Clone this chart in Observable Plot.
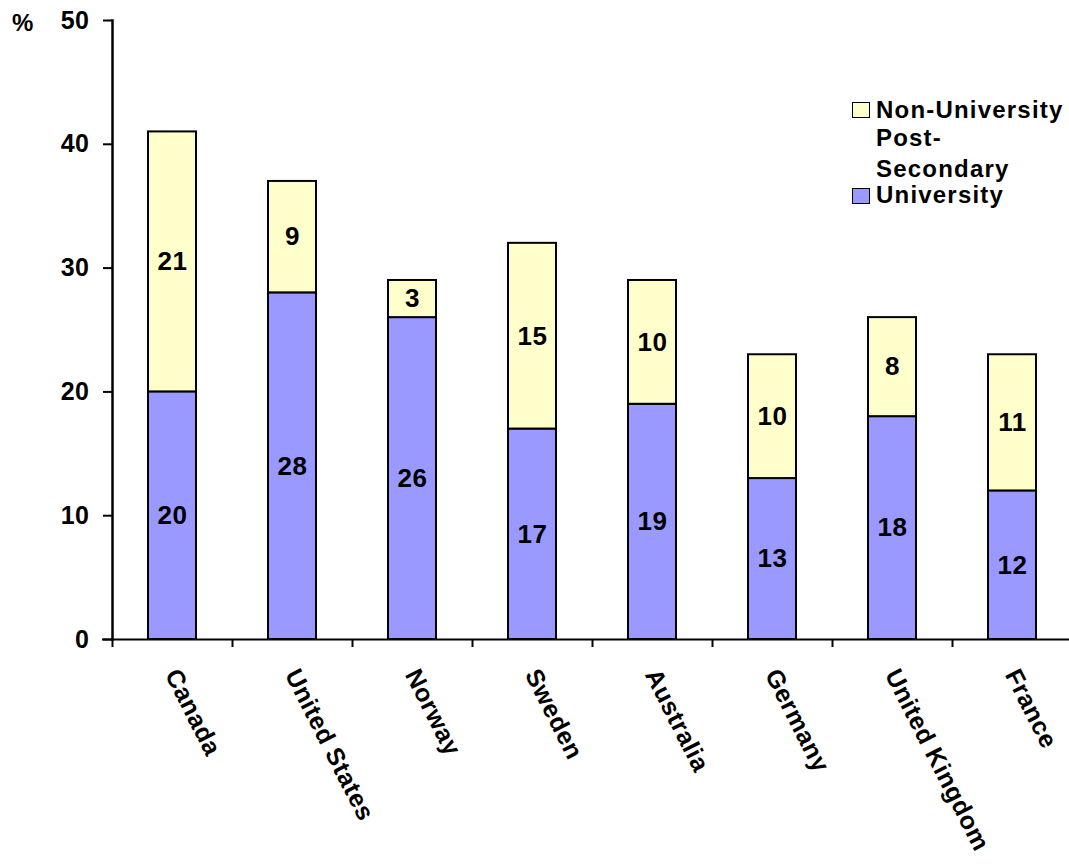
<!DOCTYPE html>
<html>
<head>
<meta charset="utf-8">
<script src="https://cdn.jsdelivr.net/npm/d3@7"></script>
<script src="https://cdn.jsdelivr.net/npm/@observablehq/plot@0.6"></script>
<style>
  html, body { margin: 0; padding: 0; background: #fff; }
  #wrap { position: relative; width: 1069px; height: 867px; font-family: "Liberation Sans", Arial, sans-serif; font-weight: bold; }
  .lbl { position: absolute; font-size: 24px; line-height: 20px; letter-spacing: 1.2px; color: #000; white-space: nowrap; }
  .sw { position: absolute; width: 18px; height: 16px; border: 1.5px solid #000; box-sizing: border-box; }
</style>
</head>
<body>
<div id="wrap"></div>
<script>
const countries = ["Canada", "United States", "Norway", "Sweden", "Australia", "Germany", "United Kingdom", "France"];
const university = [20, 28, 26, 17, 19, 13, 18, 12];
const nonUniversity = [21, 9, 3, 15, 10, 10, 8, 11];
const seriesNames = ["University", "Non-University"];
const seriesColors = ["#9999FF", "#FFFFCC"];
const yTicks = [0, 10, 20, 30, 40, 50];

const rows = [];
countries.forEach((c, i) => {
  rows.push({country: c, type: seriesNames[0], value: university[i]});
  rows.push({country: c, type: seriesNames[1], value: nonUniversity[i]});
});

const W = 1069, H = 867;
const chart = Plot.plot({
  width: W,
  height: H,
  marginLeft: 112,
  marginRight: 0,
  marginTop: 20,
  marginBottom: 228,
  style: {fontFamily: '"Liberation Sans", Arial, sans-serif', fontWeight: "bold", fontSize: "24px", color: "#000", background: "#fff", overflow: "visible", letterSpacing: "0.5px"},
  x: {type: "band", domain: countries, range: [112, 1072], paddingInner: 0.6, paddingOuter: 0.3, axis: null, label: null},
  y: {domain: [0, 50], axis: null, label: null},
  color: {domain: seriesNames, range: seriesColors},
  marks: [
    Plot.barY(rows, Plot.stackY({x: "country", y: "value", z: "type", fill: "type", stroke: "#000", strokeWidth: 2})),
    Plot.text(rows, Plot.stackY({x: "country", y: "value", z: "type", text: "value", fill: "#000", fontSize: 26, fontWeight: "bold"})),
    Plot.ruleY([0], {stroke: "#000", strokeWidth: 2, insetLeft: -10}),
    Plot.frame({anchor: "left", stroke: "#000", strokeWidth: 2.5}),
    Plot.axisY({ticks: yTicks, tickSize: 9, tickPadding: 14, strokeWidth: 2, fontSize: 25, fontWeight: "bold", fill: "#000", label: null}),
    Plot.axisX({tickSize: 8, tickFormat: () => "", dx: -60, strokeWidth: 2, label: null}),
    Plot.text(countries, {x: d => d, frameAnchor: "bottom", textAnchor: "start", rotate: 63, dx: -8, dy: 35, fontSize: 25, fontWeight: "bold", fill: "#000"})
  ]
});
const wrap = document.getElementById("wrap");
wrap.appendChild(chart);

function addLabel(text, left, top) {
  const d = document.createElement("div");
  d.className = "lbl";
  d.textContent = text;
  d.style.left = left + "px";
  d.style.top = top + "px";
  wrap.appendChild(d);
}
function addSwatch(color, left, top) {
  const d = document.createElement("div");
  d.className = "sw";
  d.style.background = color;
  d.style.left = left + "px";
  d.style.top = top + "px";
  wrap.appendChild(d);
}
addLabel("%", 12, 13);
addSwatch(seriesColors[1], 852, 102);
addLabel("Non-University", 876, 100);
addLabel("Post-", 876, 128);
addLabel("Secondary", 876, 159);
addSwatch(seriesColors[0], 852, 188);
addLabel("University", 876, 185);
</script>
</body>
</html>
